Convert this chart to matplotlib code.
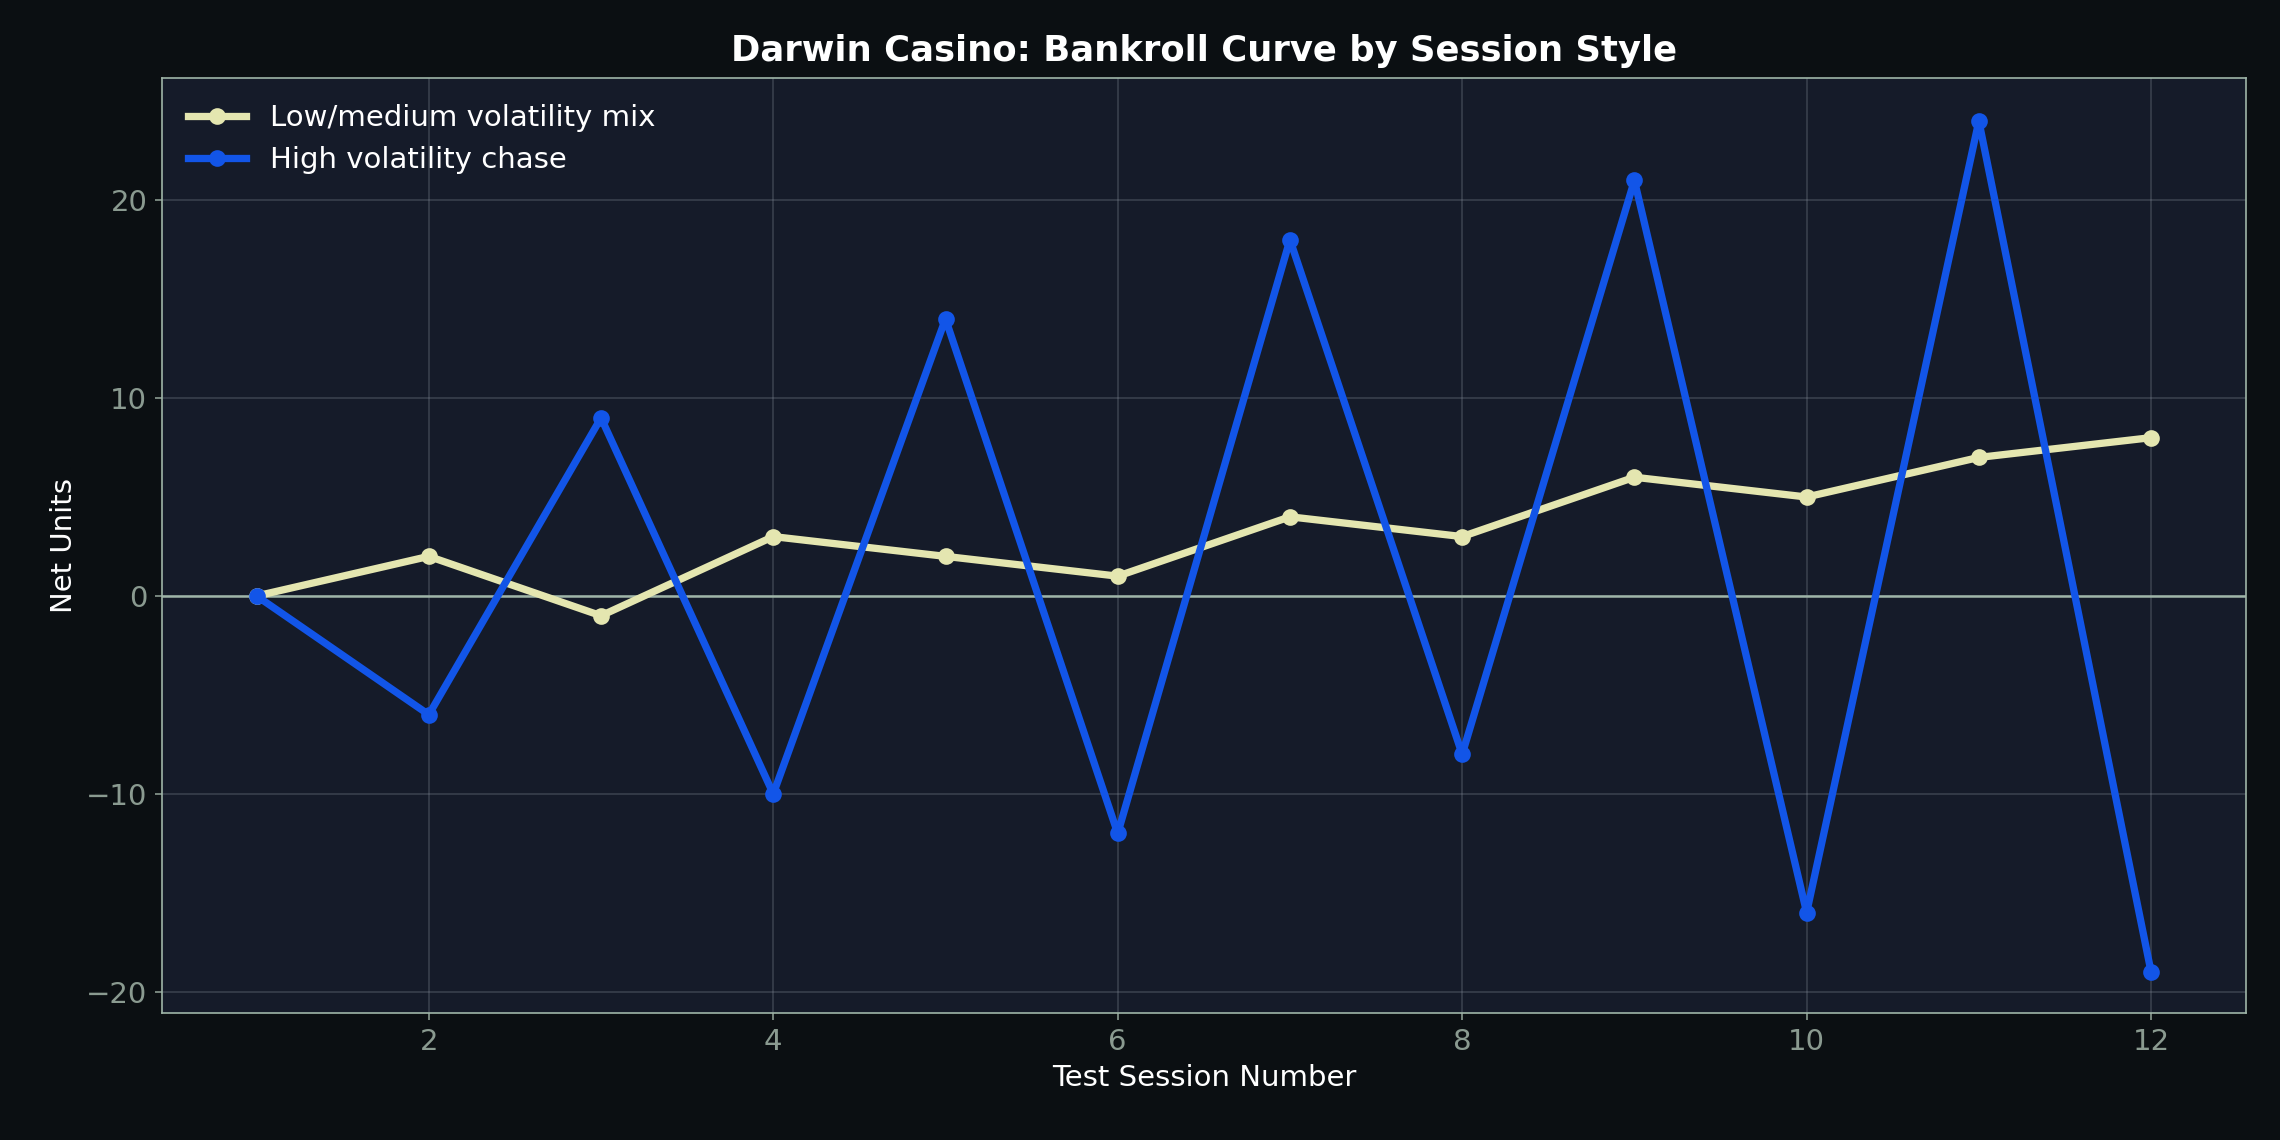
import matplotlib
matplotlib.use("Agg")
import matplotlib.pyplot as plt

sessions = list(range(1, 13))
low_mix = [0, 2, -1, 3, 2, 1, 4, 3, 6, 5, 7, 8]
high_chase = [0, -6, 9, -10, 14, -12, 18, -8, 21, -16, 24, -19]

fig = plt.figure(figsize=(15.2, 7.6), dpi=150, facecolor="#0b0f12")
ax = fig.add_axes([0.071, 0.111, 0.914, 0.821], facecolor="#151b29")

ax.plot(sessions, low_mix, color="#e4e6b0", lw=3.5, marker="o", ms=7, label="Low/medium volatility mix", zorder=3)
ax.plot(sessions, high_chase, color="#1255e8", lw=3.5, marker="o", ms=7, label="High volatility chase", zorder=4)
ax.axhline(0, color="#9fb5a8", lw=1.2, zorder=2)

ax.set_xlim(0.45, 12.55)
ax.set_ylim(-21.1, 26.2)
ax.set_xticks([2, 4, 6, 8, 10, 12])
ax.set_yticks([-20, -10, 0, 10, 20])
ax.grid(True, color="#8a93a0", alpha=0.3, lw=0.8)
for s in ax.spines.values():
    s.set_color("#9fb5a8")
ax.tick_params(colors="#8a9a90", labelsize=14, labelcolor="#8a9a90")
ax.set_xlabel("Test Session Number", color="white", fontsize=14)
ax.set_ylabel("Net Units", color="white", fontsize=14)
ax.set_title("Darwin Casino: Bankroll Curve by Session Style", color="white", fontsize=17, fontweight="bold", pad=8)
leg = ax.legend(loc="upper left", frameon=False, fontsize=14)
for t in leg.get_texts():
    t.set_color("white")

fig.savefig("out.png", dpi=150, facecolor=fig.get_facecolor())
